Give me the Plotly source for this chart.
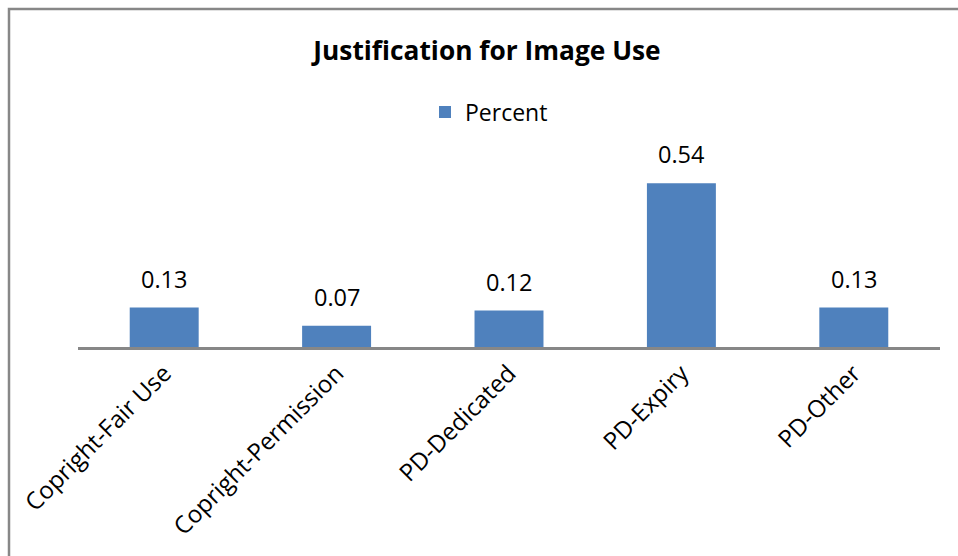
import plotly.graph_objects as go

categories = ["Copright-Fair Use", "Copright-Permission", "PD-Dedicated", "PD-Expiry", "PD-Other"]
percent = [0.13, 0.07, 0.12, 0.54, 0.13]
value_labels = ["0.13", "0.07", "0.12", "0.54", "0.13"]

W, H = 958, 556
ML, MR, MT, MB = 78, 18, 165, 209
plot_w = W - ML - MR
plot_h = H - MT - MB

BAR = "#4f81bd"
FONT = "'Open Sans', sans-serif"

fig = go.Figure()
fig.add_trace(go.Bar(
    x=categories, y=percent, name="Percent",
    marker=dict(color=BAR, line=dict(width=0)),
    showlegend=True,
))

# value labels above each bar
for c, v, t in zip(categories, percent, value_labels):
    fig.add_annotation(x=c, y=v, text=t, showarrow=False, yanchor="bottom",
                       yshift=11, font=dict(family=FONT, size=23.5, color="#000000"))

# chart frame (outer border)
bx = (9 - ML) / plot_w
by = (MT + plot_h - 9) / plot_h
fig.add_shape(type="rect", xref="paper", yref="paper",
              x0=bx, x1=2.0, y0=-3.0, y1=by,
              line=dict(color="#878787", width=2.5), layer="above")

fig.update_layout(
    width=W, height=H,
    margin=dict(l=ML, r=MR, t=MT, b=MB),
    paper_bgcolor="white", plot_bgcolor="white",
    bargap=0.6,
    title=dict(text="<b>Justification for Image Use</b>", x=(487 - ML) / plot_w, xref="paper",
               xanchor="center", y=1 - 51 / H, yanchor="middle",
               font=dict(family=FONT, size=26.3, color="#000000")),
    legend=dict(orientation="h", x=(425 - ML) / plot_w, xanchor="left",
                y=(MT + plot_h - 112) / plot_h, yanchor="middle",
                font=dict(family=FONT, size=23, color="#000000"),
                bgcolor="rgba(0,0,0,0)", itemwidth=30),
    xaxis=dict(showline=True, linecolor="#878787", linewidth=2.5, ticks="",
               tickangle=-45, tickfont=dict(family=FONT, size=24, color="#000000"),
               showgrid=False, zeroline=False),
    yaxis=dict(range=[0, 0.6], visible=False, showgrid=False, zeroline=False),
)

fig.write_html("out.html")
